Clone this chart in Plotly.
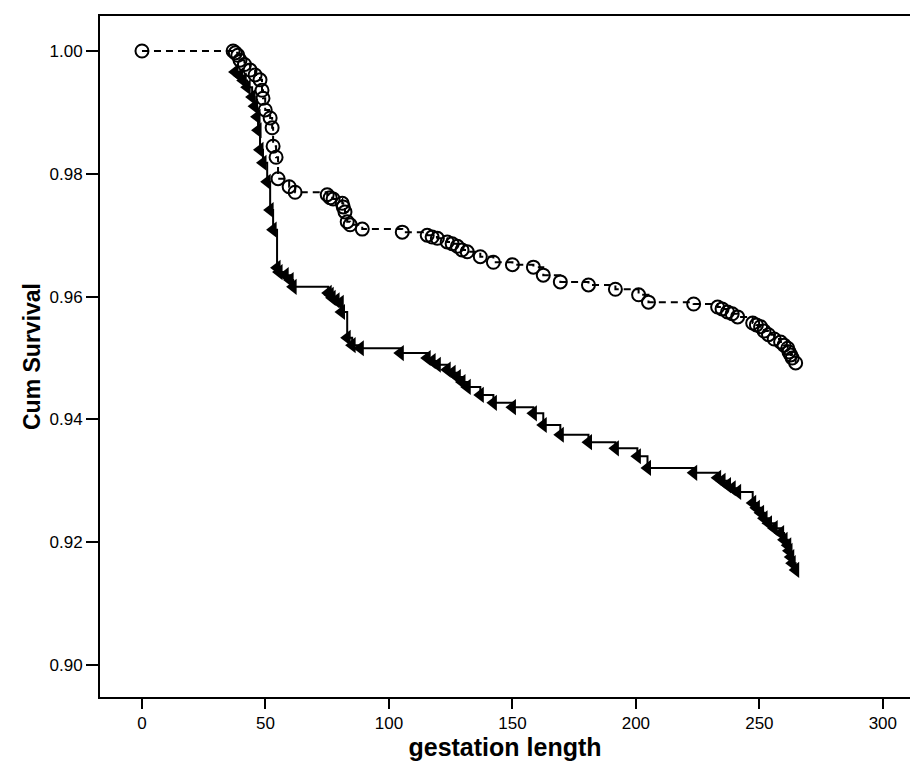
import plotly.graph_objects as go

# Group drawn with open circles and a dashed step line
circ_time = [0, 36.9, 37.8, 38.8, 39.7, 41.5, 43.8, 45.8, 47.8, 48.6, 49.0, 49.9,
             51.9, 52.7, 53.1, 54.3, 55.1, 59.6, 62.0, 75.0, 76.2, 77.4, 81.1,
             81.5, 82.2, 83.1, 84.3, 89.2, 105.4, 115.5, 117.5, 119.6, 123.6,
             125.6, 127.7, 129.6, 131.7, 137.0, 142.3, 150.0, 158.5, 162.5,
             169.4, 180.8, 191.7, 201.1, 205.1, 223.4, 233.1, 234.9, 237.1,
             239.0, 241.2, 247.3, 248.8, 250.5, 251.9, 253.7, 256.0, 258.6,
             260.0, 261.5, 262.0, 262.7, 263.3, 264.7]
circ_surv = [1.0000, 1.0000, 0.9997, 0.9993, 0.9985, 0.9978, 0.9969, 0.9961,
             0.9953, 0.9936, 0.9923, 0.9904, 0.9891, 0.9875, 0.9845, 0.9827,
             0.9792, 0.9779, 0.9770, 0.9766, 0.9761, 0.9759, 0.9752, 0.9746,
             0.9738, 0.9722, 0.9717, 0.9710, 0.9705, 0.9700, 0.9697, 0.9695,
             0.9689, 0.9686, 0.9682, 0.9676, 0.9673, 0.9665, 0.9656, 0.9652,
             0.9648, 0.9635, 0.9624, 0.9619, 0.9612, 0.9603, 0.9591, 0.9588,
             0.9583, 0.9580, 0.9575, 0.9572, 0.9567, 0.9557, 0.9554, 0.9551,
             0.9544, 0.9538, 0.9531, 0.9526, 0.9521, 0.9516, 0.9510, 0.9505,
             0.9500, 0.9492]

# Group drawn with filled left-pointing triangles and a solid step line
tri_time = [37.7, 39.5, 41.0, 42.6, 44.6, 45.6, 46.6, 47.0, 47.8, 49.0, 50.7,
            51.9, 53.1, 54.7, 55.5, 58.0, 60.0, 61.2, 75.4, 76.2, 77.0, 78.6,
            80.3, 80.8, 83.1, 85.1, 88.4, 104.6, 115.5, 117.5, 119.6, 123.6,
            125.6, 127.7, 129.6, 131.7, 137.0, 142.3, 150.0, 158.5, 162.5,
            169.4, 180.8, 191.7, 200.6, 204.7, 223.4, 233.1, 234.9, 237.1,
            239.0, 241.2, 247.3, 248.8, 250.5, 251.9, 253.7, 256.0, 258.6,
            260.0, 261.5, 262.0, 262.7, 263.3, 264.7]
tri_surv = [0.9966, 0.9960, 0.9952, 0.9941, 0.9925, 0.9910, 0.9893, 0.9871,
            0.9839, 0.9818, 0.9787, 0.9741, 0.9709, 0.9647, 0.9640, 0.9635,
            0.9627, 0.9616, 0.9606, 0.9603, 0.9598, 0.9594, 0.9590, 0.9575,
            0.9533, 0.9521, 0.9516, 0.9508, 0.9500, 0.9495, 0.9489, 0.9481,
            0.9476, 0.9469, 0.9461, 0.9453, 0.9440, 0.9427, 0.9420, 0.9410,
            0.9391, 0.9375, 0.9363, 0.9353, 0.9340, 0.9321, 0.9313, 0.9305,
            0.9300, 0.9293, 0.9288, 0.9282, 0.9264, 0.9256, 0.9248, 0.9239,
            0.9231, 0.9223, 0.9215, 0.9204, 0.9195, 0.9186, 0.9176, 0.9166,
            0.9155]

x_ticks = [0, 50, 100, 150, 200, 250, 300]
y_ticks = [0.90, 0.92, 0.94, 0.96, 0.98, 1.00]

fig = go.Figure()

fig.add_trace(go.Scatter(
    x=circ_time, y=circ_surv, mode="lines+markers",
    line=dict(color="black", width=2, dash="7px,5px", shape="hv"),
    marker=dict(symbol="circle-open", size=13, color="black",
                line=dict(color="black", width=2)),
    showlegend=False,
))

fig.add_trace(go.Scatter(
    x=tri_time, y=tri_surv, mode="lines+markers",
    line=dict(color="black", width=2, shape="hv"),
    marker=dict(symbol="triangle-left", size=14, color="black"),
    showlegend=False,
))

fig.update_layout(
    width=910, height=761,
    margin=dict(l=100, r=0, t=16, b=64),
    paper_bgcolor="white", plot_bgcolor="white",
    font=dict(family="Liberation Sans, Arial, sans-serif", color="black"),
)

fig.update_xaxes(
    range=[-17.0, 311.0],
    tickvals=x_ticks,
    ticktext=[str(v) for v in x_ticks],
    ticks="outside", ticklen=10, tickwidth=2, tickcolor="black",
    showline=True, linewidth=2, linecolor="black", mirror=True,
    showgrid=False, zeroline=False,
    tickfont=dict(size=17),
    title=dict(text="<b>gestation length</b>", font=dict(size=25), standoff=7),
)

fig.update_yaxes(
    range=[0.8948, 1.0057],
    tickvals=y_ticks,
    ticktext=[f"{v:.2f}" for v in y_ticks],
    ticks="outside", ticklen=12, tickwidth=2, tickcolor="black",
    showline=True, linewidth=2, linecolor="black", mirror=False,
    showgrid=False, zeroline=False,
    tickfont=dict(size=17),
    title=dict(text="<b>Cum Survival</b>", font=dict(size=23), standoff=2),
)

fig.write_html("out.html")
